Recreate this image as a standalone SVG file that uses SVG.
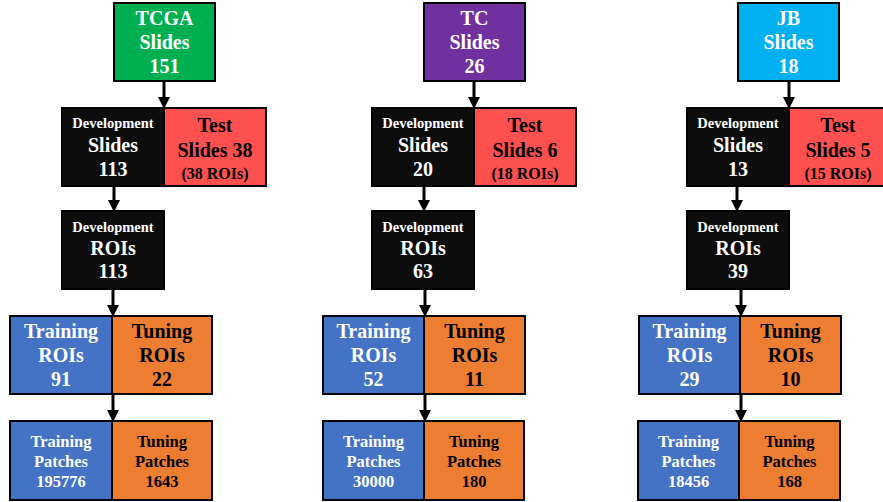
<svg xmlns="http://www.w3.org/2000/svg" width="883" height="502" viewBox="0 0 883 502">
<style>
.box{stroke:#000;stroke-width:2}
.src1{fill:#00B050}.src2{fill:#7030A0}.src3{fill:#00B0F0}
.dev{fill:#0D0D0D}
.test{fill:#FF5050}
.trn{fill:#4472C4}
.tun{fill:#ED7D31}
text{font-family:"Liberation Serif","Times New Roman",serif;font-weight:bold;text-anchor:middle}
.w{fill:#fff}.k{fill:#000}
.f20{font-size:20px}.f14{font-size:14.5px}.f16{font-size:16px}.f17{font-size:16.5px}
.arr{stroke:#000;stroke-width:3;fill:none;marker-end:url(#ah)}
</style>
<defs>
<marker id="ah" markerUnits="userSpaceOnUse" markerWidth="12" markerHeight="12" refX="0" refY="5.5" orient="auto" viewBox="0 0 11 11">
<path d="M0,0 L11,5.5 L0,11 z" fill="#000"/>
</marker>
</defs>
<rect width="883" height="502" fill="#fff"/>

<g id="connectors">
<path class="arr" d="M164,81 V97"/>
<path class="arr" d="M114,186 V200"/>
<path class="arr" d="M113,289 V305"/>
<path class="arr" d="M113,394 V410"/>
<path class="arr" d="M474,81 V97"/>
<path class="arr" d="M424,186 V200"/>
<path class="arr" d="M425,289 V305"/>
<path class="arr" d="M425,394 V410"/>
<path class="arr" d="M789,81 V97"/>
<path class="arr" d="M737,186 V200"/>
<path class="arr" d="M741,289 V305"/>
<path class="arr" d="M741,394 V410"/>
</g>

<!-- Column 1: TCGA -->
<g id="tcga-slides">
<rect class="box src1" x="114" y="3" width="101" height="78"/>
<text class="w f20" x="164.5" y="25">TCGA</text>
<text class="w f20" x="164.5" y="49">Slides</text>
<text class="w f20" x="164.5" y="73">151</text>
</g>
<g id="tcga-dev-slides">
<rect class="box dev" x="62" y="108" width="102" height="78"/>
<text class="w f14" x="113" y="128">Development</text>
<text class="w f20" x="113" y="152">Slides</text>
<text class="w f20" x="113" y="176">113</text>
</g>
<g id="tcga-test">
<rect class="box test" x="164" y="108" width="102" height="78"/>
<text class="k f20" x="215" y="132">Test</text>
<text class="k f20" x="215" y="157">Slides 38</text>
<text class="k f16" x="215" y="179">(38 ROIs)</text>
</g>
<g id="tcga-dev-rois">
<rect class="box dev" x="62" y="211" width="102" height="78"/>
<text class="w f14" x="113" y="232">Development</text>
<text class="w f20" x="113" y="255">ROIs</text>
<text class="w f20" x="113" y="278">113</text>
</g>
<g id="tcga-train-rois">
<rect class="box trn" x="10" y="316" width="102" height="78"/>
<text class="w f20" x="61" y="338">Training</text>
<text class="w f20" x="61" y="362">ROIs</text>
<text class="w f20" x="61" y="386">91</text>
</g>
<g id="tcga-tune-rois">
<rect class="box tun" x="112" y="316" width="100" height="78"/>
<text class="k f20" x="162" y="338">Tuning</text>
<text class="k f20" x="162" y="362">ROIs</text>
<text class="k f20" x="162" y="386">22</text>
</g>
<g id="tcga-train-patches">
<rect class="box trn" x="10" y="421" width="102" height="79"/>
<text class="w f17" x="61" y="447">Training</text>
<text class="w f17" x="61" y="467">Patches</text>
<text class="w f17" x="61" y="487">195776</text>
</g>
<g id="tcga-tune-patches">
<rect class="box tun" x="112" y="421" width="100" height="79"/>
<text class="k f17" x="162" y="447">Tuning</text>
<text class="k f17" x="162" y="467">Patches</text>
<text class="k f17" x="162" y="487">1643</text>
</g>

<!-- Column 2: TC -->
<g id="tc-slides">
<rect class="box src2" x="424" y="3" width="101" height="78"/>
<text class="w f20" x="474.5" y="25">TC</text>
<text class="w f20" x="474.5" y="49">Slides</text>
<text class="w f20" x="474.5" y="73">26</text>
</g>
<g id="tc-dev-slides">
<rect class="box dev" x="372" y="108" width="102" height="78"/>
<text class="w f14" x="423" y="128">Development</text>
<text class="w f20" x="423" y="152">Slides</text>
<text class="w f20" x="423" y="176">20</text>
</g>
<g id="tc-test">
<rect class="box test" x="474" y="108" width="102" height="78"/>
<text class="k f20" x="525" y="132">Test</text>
<text class="k f20" x="525" y="157">Slides 6</text>
<text class="k f16" x="525" y="179">(18 ROIs)</text>
</g>
<g id="tc-dev-rois">
<rect class="box dev" x="372" y="211" width="102" height="78"/>
<text class="w f14" x="423" y="232">Development</text>
<text class="w f20" x="423" y="255">ROIs</text>
<text class="w f20" x="423" y="278">63</text>
</g>
<g id="tc-train-rois">
<rect class="box trn" x="323" y="316" width="101" height="78"/>
<text class="w f20" x="373.5" y="338">Training</text>
<text class="w f20" x="373.5" y="362">ROIs</text>
<text class="w f20" x="373.5" y="386">52</text>
</g>
<g id="tc-tune-rois">
<rect class="box tun" x="424" y="316" width="101" height="78"/>
<text class="k f20" x="474.5" y="338">Tuning</text>
<text class="k f20" x="474.5" y="362">ROIs</text>
<text class="k f20" x="474.5" y="386">11</text>
</g>
<g id="tc-train-patches">
<rect class="box trn" x="323" y="421" width="101" height="79"/>
<text class="w f17" x="373.5" y="447">Training</text>
<text class="w f17" x="373.5" y="467">Patches</text>
<text class="w f17" x="373.5" y="487">30000</text>
</g>
<g id="tc-tune-patches">
<rect class="box tun" x="424" y="421" width="100" height="79"/>
<text class="k f17" x="474" y="447">Tuning</text>
<text class="k f17" x="474" y="467">Patches</text>
<text class="k f17" x="474" y="487">180</text>
</g>

<!-- Column 3: JB -->
<g id="jb-slides">
<rect class="box src3" x="738" y="3" width="101" height="78"/>
<text class="w f20" x="788.5" y="25">JB</text>
<text class="w f20" x="788.5" y="49">Slides</text>
<text class="w f20" x="788.5" y="73">18</text>
</g>
<g id="jb-dev-slides">
<rect class="box dev" x="687" y="108" width="102" height="78"/>
<text class="w f14" x="738" y="128">Development</text>
<text class="w f20" x="738" y="152">Slides</text>
<text class="w f20" x="738" y="176">13</text>
</g>
<g id="jb-test">
<rect class="box test" x="789" y="108" width="100" height="78"/>
<text class="k f20" x="838" y="132">Test</text>
<text class="k f20" x="838" y="157">Slides 5</text>
<text class="k f16" x="838" y="179">(15 ROIs)</text>
</g>
<g id="jb-dev-rois">
<rect class="box dev" x="687" y="211" width="102" height="78"/>
<text class="w f14" x="738" y="232">Development</text>
<text class="w f20" x="738" y="255">ROIs</text>
<text class="w f20" x="738" y="278">39</text>
</g>
<g id="jb-train-rois">
<rect class="box trn" x="639" y="316" width="101" height="78"/>
<text class="w f20" x="689.5" y="338">Training</text>
<text class="w f20" x="689.5" y="362">ROIs</text>
<text class="w f20" x="689.5" y="386">29</text>
</g>
<g id="jb-tune-rois">
<rect class="box tun" x="740" y="316" width="101" height="78"/>
<text class="k f20" x="790.5" y="338">Tuning</text>
<text class="k f20" x="790.5" y="362">ROIs</text>
<text class="k f20" x="790.5" y="386">10</text>
</g>
<g id="jb-train-patches">
<rect class="box trn" x="638" y="421" width="101" height="79"/>
<text class="w f17" x="688.5" y="447">Training</text>
<text class="w f17" x="688.5" y="467">Patches</text>
<text class="w f17" x="688.5" y="487">18456</text>
</g>
<g id="jb-tune-patches">
<rect class="box tun" x="739" y="421" width="101" height="79"/>
<text class="k f17" x="789.5" y="447">Tuning</text>
<text class="k f17" x="789.5" y="467">Patches</text>
<text class="k f17" x="789.5" y="487">168</text>
</g>
</svg>
